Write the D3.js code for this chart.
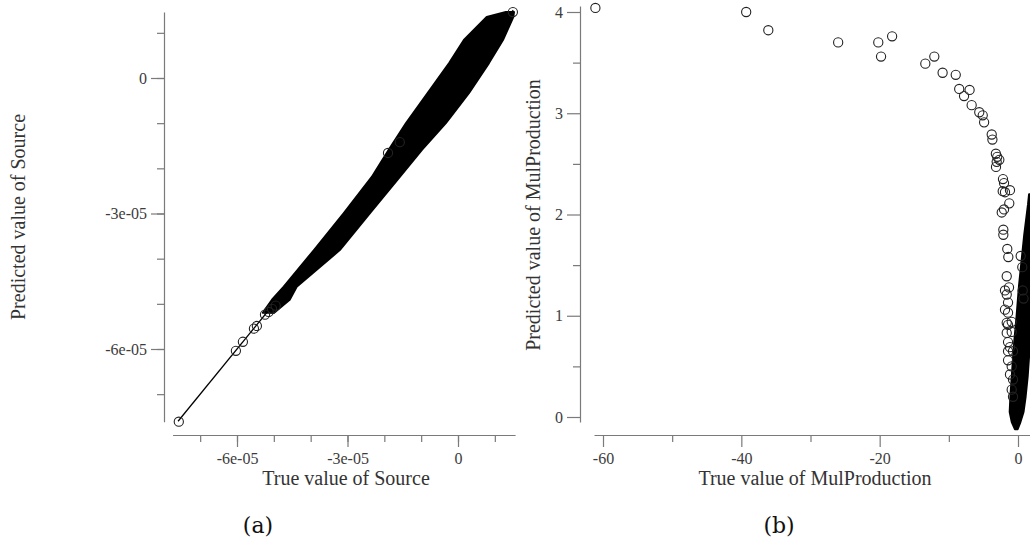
<!DOCTYPE html>
<html>
<head>
<meta charset="utf-8">
<script src="https://cdn.jsdelivr.net/npm/d3@7"></script>
<style>
  body { margin: 0; background: #fff; }
  svg { display: block; font-family: "Liberation Serif", "Times New Roman", serif; }
  .axis path, .axis line { stroke: #7a7a7a; stroke-width: 1.2; }
  .axis text { fill: #3c3c3c; font-size: 16px; font-family: "Liberation Serif", serif; }
  .title { fill: #333; font-size: 20px; }
  .caption { fill: #111; font-size: 22px; font-family: "DejaVu Serif", serif; }
</style>
</head>
<body>
<svg id="chart" width="1030" height="547"></svg>
<script>
// ---- panel (a): Source (values in units of 1e-5) ----
const srcOutTrue = [-7.58, -6.03, -5.84, -5.54, -5.46, -5.24, -5.14, -5.05, -4.95, -1.90, -1.58, 1.49];
const srcOutPred = [-7.61, -6.04, -5.84, -5.55, -5.49, -5.24, -5.18, -5.11, -5.04, -1.66, -1.42, 1.46];

// dense band of overlapping points: predicted rows with left/right true edges
const srcBandPred = [1.46, 1.35, 0.84, 0.33, -0.33, -1.00, -1.59, -2.19, -2.99, -3.81, -4.62, -4.91, -5.20];
const srcBandLo   = [1.30, 0.78, 0.16, -0.24, -0.82, -1.41, -1.88, -2.34, -3.10, -3.91, -4.73, -5.05, -5.30];
const srcBandHi   = [1.52, 1.50, 1.22, 0.84, 0.30, -0.33, -0.98, -1.58, -2.39, -3.21, -4.38, -4.57, -5.00];

const srcRefLine = [-7.6, 1.5];
const srcXAxisRange = [-7.75, 1.55];
const srcYAxisRange = [-7.61, 1.46];
const srcMajorTicks = [-6, -3, 0];
const srcMinorTicks = [-7, -6, -5, -4, -3, -2, -1, 0, 1];

// ---- panel (b): MulProduction ----
const mulOutTrue = [-61.1, -39.3, -36.1, -26.0, -20.2, -18.2, -19.8, -13.4, -12.1, -10.9, -9.0, -8.5, -7.0, -7.8,
  -6.7, -5.6, -5.1, -4.9, -3.8, -3.7, -3.2, -3.0, -2.7, -3.08, -3.18, -2.17, -2.02, -2.21, -1.88, -1.16, -1.26,
  -2.02, -2.35, -2.12, -2.12, -1.55, -1.40, 0.39, 0.62, -1.63, -1.30, -1.88, -1.63, -1.44, -1.88, -1.44, -1.63,
  -1.44, -0.91, -1.63, -0.91, -1.44, -1.16, -1.44, -0.72, -1.44, -0.91, -1.16, -0.72, -0.91, -0.72, 0.68, 0.8];
const mulOutPred = [4.04, 4.00, 3.82, 3.70, 3.70, 3.76, 3.56, 3.49, 3.56, 3.40, 3.38, 3.24, 3.23, 3.17,
  3.08, 3.01, 2.98, 2.91, 2.79, 2.74, 2.60, 2.57, 2.54, 2.52, 2.47, 2.35, 2.31, 2.23, 2.22, 2.24, 2.11,
  2.05, 2.02, 1.85, 1.80, 1.66, 1.58, 1.59, 1.48, 1.39, 1.28, 1.25, 1.21, 1.13, 1.06, 1.03, 0.93,
  0.91, 0.94, 0.83, 0.84, 0.74, 0.69, 0.65, 0.65, 0.56, 0.50, 0.42, 0.37, 0.27, 0.20, 1.25, 1.17];

const mulBandPred = [-0.12, -0.05, 0.05, 0.2, 0.4, 0.7, 1.0, 1.3, 1.6, 1.8, 2.1, 2.2];
const mulBandLo   = [-0.45, -0.9, -1.2, -1.1, -0.9, -0.6, -0.2, 0.15, 0.6, 0.9, 1.45, 1.6];
const mulBandHi   = [-0.05, 0.35, 0.8, 1.1, 1.4, 1.7, 2.0, 2.3, 2.6, 2.8, 3.0, 3.1];

const mulXAxisRange = [-61.3, 3];
const mulYAxisRange = [-0.05, 4.06];
const mulXMajor = [-60, -40, -20, 0];
const mulXMinor = [-50, -30, -10];
const mulYMajor = [0, 1, 2, 3, 4];
const mulYMinor = [0.5, 1.5, 2.5, 3.5];

const svg = d3.select("#chart");

const srcFmt = (d) => d === 0 ? "0" : `-${Math.abs(d)}e-05`;

const drawPanel = (cfg) => {
  const { x, y, xAxisY, yAxisX } = cfg;
  const g = svg.append("g");

  // axes use scales limited to the visible axis extent
  const xs = x.copy().domain(cfg.xRange).range(cfg.xRange.map(x));
  const ys = y.copy().domain(cfg.yRange).range(cfg.yRange.map(y));

  g.append("g").attr("class", "axis")
    .attr("transform", `translate(0,${xAxisY})`)
    .call(d3.axisBottom(xs).tickValues(cfg.xMinor).tickSize(7).tickFormat(""))
    .call((a) => a.select(".domain").remove());
  g.append("g").attr("class", "axis")
    .attr("transform", `translate(0,${xAxisY})`)
    .call(d3.axisBottom(xs).tickValues(cfg.xMajor).tickSize(12).tickSizeOuter(0).tickPadding(6).tickFormat(cfg.fmt));

  g.append("g").attr("class", "axis")
    .attr("transform", `translate(${yAxisX},0)`)
    .call(d3.axisLeft(ys).tickValues(cfg.yMinor).tickSize(7).tickFormat(""))
    .call((a) => a.select(".domain").remove());
  g.append("g").attr("class", "axis")
    .attr("transform", `translate(${yAxisX},0)`)
    .call(d3.axisLeft(ys).tickValues(cfg.yMajor).tickSize(13).tickSizeOuter(0).tickPadding(4).tickFormat(cfg.fmt));

  if (cfg.ref) {
    g.append("line")
      .attr("x1", x(cfg.ref[0])).attr("y1", y(cfg.ref[0]))
      .attr("x2", x(cfg.ref[1])).attr("y2", y(cfg.ref[1]))
      .attr("stroke", "#000").attr("stroke-width", 1.3);
  }

  // dense band of overlapping points
  const band = cfg.bandPred.map((p, i) => ({ p, lo: cfg.bandLo[i], hi: cfg.bandHi[i] }));
  g.append("path")
    .datum(band)
    .attr("fill", "#000")
    .attr("stroke", "#000")
    .attr("stroke-width", 2)
    .attr("stroke-linejoin", "round")
    .attr("d", d3.area().y((d) => y(d.p)).x0((d) => x(d.lo)).x1((d) => x(d.hi)));

  g.selectAll("circle.pt")
    .data(cfg.outTrue.map((t, i) => [t, cfg.outPred[i]]))
    .enter()
    .append("circle")
    .attr("class", "pt")
    .attr("cx", (d) => x(d[0]))
    .attr("cy", (d) => y(d[1]))
    .attr("r", 4.6)
    .attr("fill", "none")
    .attr("stroke", "#222")
    .attr("stroke-width", 1.1);

  g.append("text").attr("class", "title")
    .attr("x", cfg.xTitlePos[0]).attr("y", cfg.xTitlePos[1])
    .attr("text-anchor", "middle").text(cfg.xTitle);
  g.append("text").attr("class", "title")
    .attr("transform", `translate(${cfg.yTitlePos[0]},${cfg.yTitlePos[1]}) rotate(-90)`)
    .attr("text-anchor", "middle").text(cfg.yTitle);
  g.append("text").attr("class", "caption")
    .attr("x", cfg.capPos[0]).attr("y", cfg.capPos[1])
    .attr("text-anchor", "middle").text(cfg.caption);
};

drawPanel({
  x: d3.scaleLinear().domain([-6, 0]).range([237, 458]),
  y: d3.scaleLinear().domain([-6, 0]).range([349, 78]),
  xAxisY: 435, yAxisX: 164,
  xRange: srcXAxisRange, yRange: srcYAxisRange,
  xMajor: srcMajorTicks, xMinor: srcMinorTicks,
  yMajor: srcMajorTicks, yMinor: srcMinorTicks,
  fmt: srcFmt,
  bandPred: srcBandPred, bandLo: srcBandLo, bandHi: srcBandHi,
  ref: srcRefLine,
  outTrue: srcOutTrue, outPred: srcOutPred,
  xTitle: "True value of Source", xTitlePos: [346, 485],
  yTitle: "Predicted value of Source", yTitlePos: [25, 217],
  caption: "(a)", capPos: [258, 533]
});

drawPanel({
  x: d3.scaleLinear().domain([-60, 0]).range([603, 1018]),
  y: d3.scaleLinear().domain([0, 4]).range([417, 12]),
  xAxisY: 435, yAxisX: 580,
  xRange: mulXAxisRange, yRange: mulYAxisRange,
  xMajor: mulXMajor, xMinor: mulXMinor,
  yMajor: mulYMajor, yMinor: mulYMinor,
  fmt: (d) => String(d),
  bandPred: mulBandPred, bandLo: mulBandLo, bandHi: mulBandHi,
  ref: null,
  outTrue: mulOutTrue, outPred: mulOutPred,
  xTitle: "True value of MulProduction", xTitlePos: [815, 485],
  yTitle: "Predicted value of MulProduction", yTitlePos: [540, 215],
  caption: "(b)", capPos: [779, 533]
});
</script>
</body>
</html>
